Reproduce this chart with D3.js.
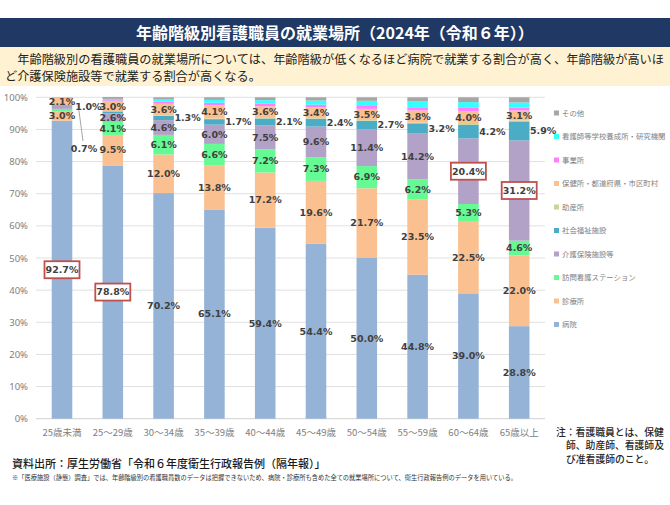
<!DOCTYPE html>
<html>
<head>
<meta charset="utf-8">
<script src="https://cdn.jsdelivr.net/npm/d3@7"></script>
<style>
  body { margin: 0; background: #fff; }
  text { font-family: "Noto Sans CJK JP", "Noto Sans", sans-serif; }
</style>
</head>
<body>
<div id="chart"></div>
<script>
// age groups
const ages = ['25歳未満', '25～29歳', '30～34歳', '35～39歳', '40～44歳', '45～49歳', '50～54歳', '55～59歳', '60～64歳', '65歳以上']

// series (bottom -> top)
const seriesNames = ['病院', '診療所', '訪問看護ステーション', '介護保険施設等', '社会福祉施設', '助産所', '保健所・都道府県・市区町村', '事業所', '看護師等学校養成所・研究機関', 'その他']
const seriesColors = ['#95b3d7', '#fac090', '#66fa94', '#b3a2c7', '#4bacc6', '#c3d69b', '#fac090', '#ff80ff', '#33ffff', '#a6a6a6']

const hospital = [92.7, 78.8, 70.2, 65.1, 59.4, 54.4, 50.0, 44.8, 39.0, 28.8]
const clinic = [3.0, 9.5, 12.0, 13.8, 17.2, 19.6, 21.7, 23.5, 22.5, 22.0]
const homeVisit = [0.7, 4.1, 6.1, 6.6, 7.2, 7.3, 6.9, 6.2, 5.3, 4.6]
const careFacility = [1.0, 2.6, 4.6, 6.0, 7.5, 9.6, 11.4, 14.2, 20.4, 31.2]
const welfare = [0.3, 0.6, 1.3, 1.7, 2.1, 2.4, 2.7, 3.2, 4.2, 5.9]
const midwifery = [0.0, 0.1, 0.2, 0.2, 0.2, 0.2, 0.2, 0.2, 0.3, 0.3]
const publicHealth = [2.1, 3.0, 3.6, 4.1, 3.6, 3.4, 3.5, 3.8, 4.0, 3.1]
const business = [0.05, 0.4, 0.6, 0.8, 0.8, 0.8, 0.9, 1.0, 1.0, 0.9]
const school = [0.05, 0.4, 0.7, 0.9, 1.1, 1.3, 1.6, 1.8, 1.8, 1.6]
const other = [0.1, 0.6, 0.7, 0.8, 0.9, 1.0, 1.1, 1.3, 1.5, 1.6]

const yTicks = [0, 10, 20, 30, 40, 50, 60, 70, 80, 90, 100]

// highlighted values (series index, age index)
const boxed = [[0, 0], [0, 1], [3, 8], [3, 9]]

const width = 670
const height = 505

const allSeries = [hospital, clinic, homeVisit, careFacility, welfare, midwifery, publicHealth, business, school, other]
const rows = ages.map((a, i) => {
    const r = { age: a }
    seriesNames.forEach((s, k) => { r[s] = allSeries[k][i] })
    return r
})

const svg = d3.select('#chart').append('svg').attr('width', width).attr('height', height)

// header band
svg.append('rect').attr('x', 0).attr('y', 18).attr('width', width).attr('height', 29).attr('fill', '#203864')
svg.append('text')
    .attr('x', 335).attr('y', 38.5)
    .attr('text-anchor', 'middle')
    .attr('fill', '#fff')
    .style('font-size', '16px').style('font-weight', 'bold')
    .text('年齢階級別看護職員の就業場所（2024年（令和６年））')

svg.append('rect').attr('x', 0).attr('y', 47).attr('width', width).attr('height', 39).attr('fill', '#fef2d2')
svg.append('text')
    .attr('x', 5).attr('y', 64)
    .attr('fill', '#222')
    .attr('textLength', 659).attr('lengthAdjust', 'spacing')
    .style('font-size', '12.2px')
    .text('　年齢階級別の看護職員の就業場所については、年齢階級が低くなるほど病院で就業する割合が高く、年齢階級が高いほ')
svg.append('text')
    .attr('x', 5).attr('y', 81)
    .attr('fill', '#222')
    .style('font-size', '12.2px')
    .text('ど介護保険施設等で就業する割合が高くなる。')

// scales
const x = d3.scaleBand().domain(ages).range([36.6, 544.6]).paddingInner(0.595).paddingOuter(0.2975)
const y = d3.scaleLinear().domain([0, 100]).range([418.7, 97.3])

// grid
svg.append('g')
    .selectAll('line')
    .data(yTicks)
    .join('line')
    .attr('x1', 36).attr('x2', 545)
    .attr('y1', d => y(d)).attr('y2', d => y(d))
    .attr('stroke', d => d === 0 ? '#d0d0d0' : '#e0e0e0')
    .attr('stroke-width', 1)

const yAxis = svg.append('g')
    .attr('transform', 'translate(30,0)')
    .call(d3.axisLeft(y).tickValues(yTicks).tickFormat(d => d + '%').tickSize(0).tickPadding(2))
yAxis.select('.domain').remove()
yAxis.selectAll('text').attr('fill', '#808080').style('font-size', '9.5px').style('font-family', '"Noto Sans", sans-serif')

const xAxis = svg.append('g')
    .attr('transform', 'translate(0,' + 426 + ')')
    .call(d3.axisBottom(x).tickSize(0).tickPadding(3))
xAxis.select('.domain').remove()
xAxis.selectAll('text').attr('fill', '#808080').style('font-size', '9.5px')

// stacked bars
const stack = d3.stack().keys(seriesNames)(rows)

svg.append('g')
    .selectAll('g')
    .data(stack)
    .join('g')
    .attr('fill', (d, i) => seriesColors[i])
    .selectAll('rect')
    .data(d => d)
    .join('rect')
    .attr('x', d => x(d.data.age))
    .attr('y', d => y(d[1]))
    .attr('width', x.bandwidth())
    .attr('height', d => y(d[0]) - y(d[1]))

// labels
const fmt = d => d3.format('.1f')(d) + '%'
const labels = []
stack.forEach((s, k) => {
    s.forEach((d, i) => {
        const v = allSeries[k][i]
        const cx = x(ages[i]) + x.bandwidth() / 2
        const cy = y((d[0] + d[1]) / 2)
        if (k === 0 || k === 1 || k === 6) labels.push({ k, i, v, x: cx, y: cy, anchor: 'middle' })
        else if ((k === 2 || k === 3) && i > 0) labels.push({ k, i, v, x: cx, y: cy, anchor: 'middle' })
        else if (k === 4 && i > 1) labels.push({ k, i, v, x: x(ages[i]) + x.bandwidth() + 0.5, y: cy, anchor: 'start' })
        else if (k === 3 && i === 0) labels.push({ k, i, v, x: x(ages[i]) + x.bandwidth() + 3, y: cy - 1, anchor: 'start' })
        else if (k === 2 && i === 0) labels.push({ k, i, v, x: cx + 22, y: 149, anchor: 'middle', leader: [x(ages[i]) + x.bandwidth() + 6, y(d[1]) - 3] })
    })
})

// leader line
svg.append('g')
    .selectAll('line')
    .data(labels.filter(d => d.leader))
    .join('line')
    .attr('x1', d => d.leader[0]).attr('y1', d => d.leader[1])
    .attr('x2', d => d.x - 1).attr('y2', d => d.y - 8)
    .attr('stroke', '#a6a6a6').attr('stroke-width', 1)

// boxes for highlighted values
svg.append('g')
    .selectAll('rect')
    .data(labels.filter(d => boxed.some(b => b[0] === d.k && b[1] === d.i)))
    .join('rect')
    .attr('x', d => d.x - 17.5)
    .attr('y', d => d.y - 8.5)
    .attr('width', 35)
    .attr('height', 17)
    .attr('fill', '#fff')
    .attr('stroke', '#c0504d')
    .attr('stroke-width', 1.8)

svg.append('g')
    .selectAll('text')
    .data(labels)
    .join('text')
    .attr('x', d => d.x)
    .attr('y', d => d.y)
    .attr('dy', '0.35em')
    .attr('text-anchor', d => d.anchor)
    .attr('fill', '#404040')
    .style('font-size', '9.5px')
    .style('font-weight', 'bold')
    .style('font-family', '"DejaVu Sans", sans-serif')
    .text(d => fmt(d.v))

// legend
const legendItems = seriesNames.map((s, i) => ({ name: s, color: seriesColors[i] })).reverse()
const legend = svg.append('g')
    .selectAll('g')
    .data(legendItems)
    .join('g')
    .attr('transform', (d, i) => 'translate(554,' + (113 + i * 23.5) + ')')
legend.append('rect').attr('x', 0).attr('y', -2.5).attr('width', 5).attr('height', 5).attr('fill', d => d.color)
legend.append('text')
    .attr('x', 8).attr('y', 0).attr('dy', '0.35em')
    .attr('fill', '#7f7f7f')
    .style('font-size', '7.4px')
    .text(d => d.name)

// note
const noteLines = ['注：看護職員とは、保健', '師、助産師、看護師及', 'び准看護師のこと。']
svg.append('g')
    .selectAll('text')
    .data(noteLines)
    .join('text')
    .attr('x', (d, i) => i === 0 ? 556 : 566)
    .attr('y', (d, i) => 436 + i * 13.3)
    .attr('fill', '#262626')
    .style('font-size', '9.8px')
    .style('font-weight', '500')
    .text(d => d)

// source
svg.append('text')
    .attr('x', 12).attr('y', 468)
    .attr('fill', '#1a1a1a')
    .style('font-size', '11px')
    .style('font-weight', '500')
    .text('資料出所：厚生労働省「令和６年度衛生行政報告例（隔年報）」')
svg.append('text')
    .attr('x', 12).attr('y', 480)
    .attr('fill', '#333')
    .attr('textLength', 505).attr('lengthAdjust', 'spacingAndGlyphs')
    .style('font-size', '6.5px')
    .text('※「医療施設（静態）調査」では、年齢階級別の看護職員数のデータは把握できないため、病院・診療所も含めた全ての就業場所について、衛生行政報告例のデータを用いている。')
</script>
</body>
</html>
